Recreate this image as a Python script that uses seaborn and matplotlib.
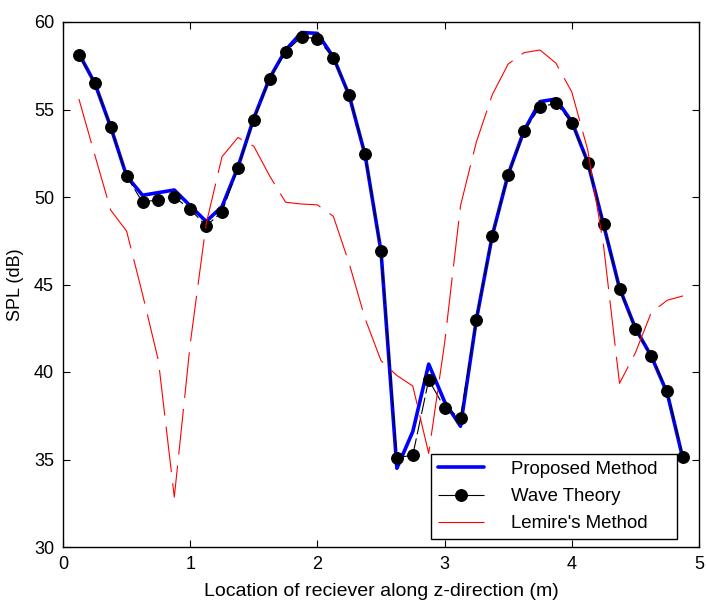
import matplotlib
matplotlib.use("Agg")
import matplotlib.pyplot as plt
import seaborn as sns
import pandas as pd

z_positions = [0.125, 0.25, 0.375, 0.5, 0.625, 0.75, 0.875, 1.0, 1.125, 1.25,
               1.375, 1.5, 1.625, 1.75, 1.875, 2.0, 2.125, 2.25, 2.375, 2.5,
               2.625, 2.75, 2.875, 3.0, 3.125, 3.25, 3.375, 3.5, 3.625, 3.75,
               3.875, 4.0, 4.125, 4.25, 4.375, 4.5, 4.625, 4.75, 4.875]

proposed_method = [58.2, 56.5, 54.0, 51.2, 50.1, 50.25, 50.4, 49.5, 48.6, 49.45,
                   51.7, 54.5, 56.8, 58.4, 59.4, 59.35, 58.0, 55.8, 52.4, 46.9,
                   34.5, 36.6, 40.45, 38.3, 36.9, 43.0, 47.8, 51.3, 53.8, 55.45,
                   55.6, 54.3, 52.0, 48.4, 44.8, 42.5, 40.9, 38.8, 35.0]

wave_theory = [58.1, 56.5, 54.0, 51.2, 49.7, 49.85, 50.0, 49.3, 48.35, 49.15,
               51.65, 54.4, 56.75, 58.3, 59.15, 59.05, 57.95, 55.85, 52.45, 46.9,
               35.1, 35.25, 39.55, 37.95, 37.4, 43.0, 47.8, 51.25, 53.75, 55.15,
               55.35, 54.25, 51.95, 48.45, 44.75, 42.45, 40.9, 38.9, 35.15]

lemire_method = [55.6, 52.4, 49.25, 48.05, 44.45, 40.65, 32.85, 41.6, 48.45, 52.3,
                 53.4, 52.9, 51.2, 49.7, 49.6, 49.55, 48.9, 46.2, 43.05, 40.65,
                 39.8, 39.2, 35.35, 41.65, 49.5, 53.15, 55.85, 57.6, 58.25, 58.4,
                 57.65, 56.0, 52.7, 47.2, 39.35, 41.1, 43.4, 44.1, 44.35]

x_ticks = [0, 1, 2, 3, 4, 5]
y_ticks = [30, 35, 40, 45, 50, 55, 60]

sns.set_theme(style="white")
plt.rcParams['font.family'] = ['Liberation Sans', 'DejaVu Sans']
plt.rcParams['lines.scale_dashes'] = False
plt.rcParams['text.color'] = 'black'
plt.rcParams['axes.labelcolor'] = 'black'

df = pd.DataFrame({"z": z_positions, "proposed": proposed_method,
                   "wave": wave_theory, "lemire": lemire_method})

fig = plt.figure(figsize=(7.06, 6.01), dpi=100)
ax = fig.add_axes([63/706, 1 - 547/601, (699-63)/706, (547-22)/601])

sns.lineplot(data=df, x="z", y="proposed", ax=ax, color=(0, 0, 1), lw=2.6,
             label="Proposed Method")
sns.lineplot(data=df, x="z", y="wave", ax=ax, color="black", lw=0.8,
             marker="o", markersize=8.5, markeredgecolor="black",
             markerfacecolor="black", label="Wave Theory")
sns.lineplot(data=df, x="z", y="lemire", ax=ax, color=(1, 0, 0), lw=0.8,
             label="Lemire's Method")

ax.lines[1].set_dashes((12, 3))
ax.lines[2].set_dashes((33, 8))

ax.set_xlim(0, 5)
ax.set_ylim(30, 60)
ax.set_xticks(x_ticks)
ax.set_yticks(y_ticks)
ax.set_xticklabels([str(t) for t in x_ticks])
ax.set_yticklabels([str(t) for t in y_ticks])
ax.tick_params(direction="in", length=5, width=0.8, colors="black",
               labelsize=13, top=True, right=True, bottom=True, left=True,
               pad=6.5)
for s in ax.spines.values():
    s.set_visible(True)
    s.set_color("black")
    s.set_linewidth(1.0)

ax.set_xlabel("Location of reciever along z-direction (m)", fontsize=14,
              labelpad=7, color="black")
ax.set_ylabel("SPL (dB)", fontsize=13, labelpad=7, color="black")

leg = ax.legend(loc="lower left",
                bbox_to_anchor=((431-63)/636, (547-539)/525, (677-431)/636, 0.1),
                mode="expand", borderaxespad=0, fontsize=13.4, frameon=True,
                fancybox=False, edgecolor="black", framealpha=1,
                handlelength=2.5, borderpad=0.35, labelspacing=0.55,
                handletextpad=1.45)
leg.get_frame().set_linewidth(1.0)
for t in leg.get_texts():
    t.set_color("black")
leg_lines = leg.get_lines()
leg_lines[1].set_dashes((18, 3))
leg_lines[2].set_dashes((40, 5))

fig.savefig("out.png", dpi=100)
